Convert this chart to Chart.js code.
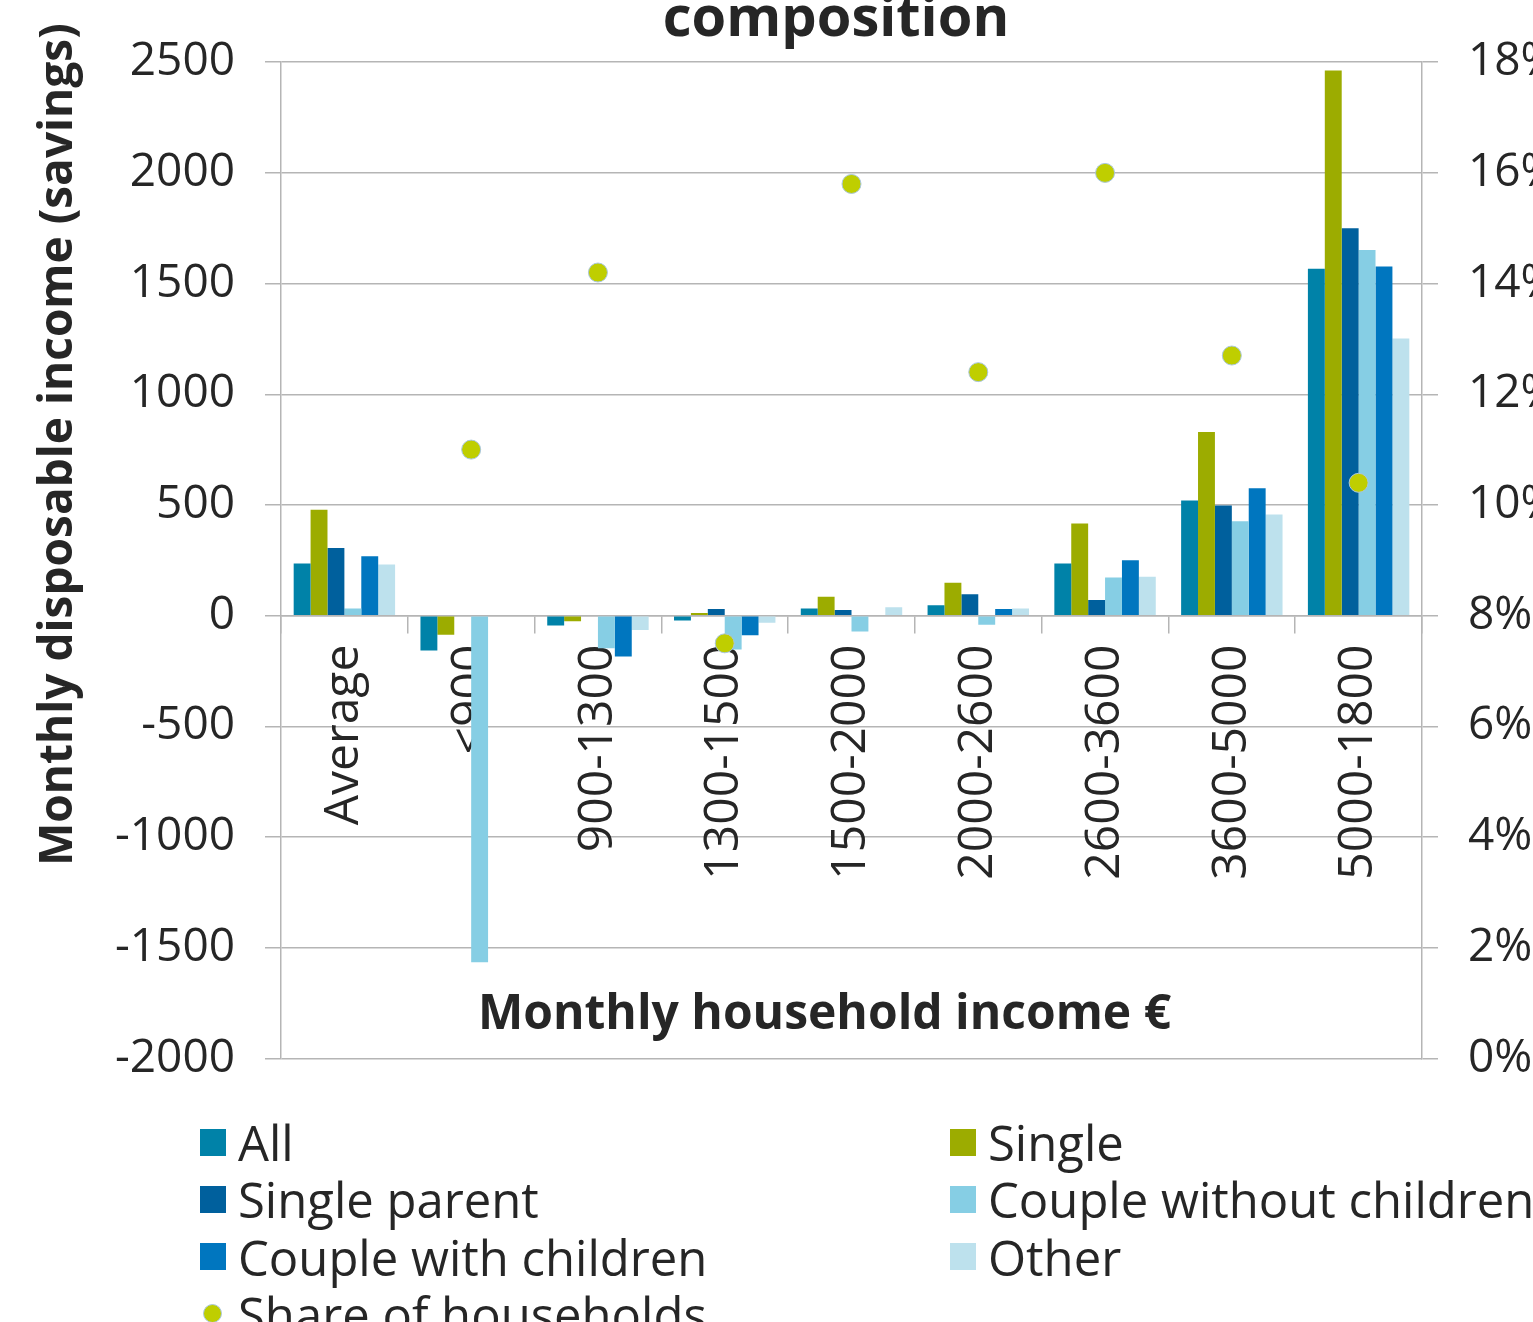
<!DOCTYPE html>
<html>
<head>
<meta charset="utf-8">
<script src="https://cdn.jsdelivr.net/npm/chart.js@4/dist/chart.umd.min.js"></script>
<style>
  html, body { margin:0; padding:0; width:1533px; height:1322px; overflow:hidden; background:#ffffff; }
  #chart { position:absolute; left:0; top:0; }
  .lg { position:absolute; display:flex; align-items:center; height:58px; font-family:'Open Sans', sans-serif; font-size:49px; color:#262626; white-space:nowrap; }
  .lg .sw { width:26px; height:27px; margin-right:12px; flex:none; }
  .lg .dot { width:19px; height:19px; border-radius:50%; margin-left:3px; margin-right:16px; flex:none; box-sizing:border-box; }
</style>
</head>
<body>
<canvas id="chart" width="1672" height="1116"></canvas>
<div id="legend"></div>
<script>
// ---- data ----
const categories = ['Average','<900','900-1300','1300-1500','1500-2000','2000-2600','2600-3600','3600-5000','5000-1800'];
const allHouseholds   = [236, -158,  -44,  -22,  32,  47, 235, 520, 1567];
const single          = [478,  -86,  -25,   12,  85, 149, 416, 830, 2462];
const singleParent    = [306, null, null,   30,  26,  97,  71, 497, 1750];
const coupleWithout   = [ 32, -1566, -147, -153, -72, -41, 172, 426, 1652];
const coupleWith      = [268, null, -184,  -89,  -4,  30, 250, 576, 1577];
const other           = [231, null,  -65,  -32,  38,  32, 176, 457, 1252];
const shareOfHouseholds = [null, 11.0, 14.2, 7.5, 15.8, 12.4, 16.0, 12.7, 10.4];
const leftTicks = { min: -2000, max: 2500, step: 500 };
const rightTicks = { min: 0, max: 18, step: 2 };

const TEXT = '#262626';
const GRID = '#b5b5b5';
const FONT = "'Open Sans', sans-serif";
Chart.defaults.font.family = FONT;
Chart.defaults.color = TEXT;

function bar(label, data, color) {
  return { type:'bar', label, data, backgroundColor: color, borderWidth:0,
           categoryPercentage:0.8, barPercentage:1.0, yAxisID:'y', order:1 };
}

const datasets = [
  bar('All', allHouseholds, '#0082A8'),
  bar('Single', single, '#9CAC00'),
  bar('Single parent', singleParent, '#00609D'),
  bar('Couple without children', coupleWithout, '#86CEE4'),
  bar('Couple with children', coupleWith, '#0076BF'),
  bar('Other', other, '#BDE1ED'),
  { type:'line', label:'Share of households', data: shareOfHouseholds, yAxisID:'y1',
    showLine:false, pointRadius:9.5, pointBackgroundColor:'#BFCE00', pointBorderColor:'#A9C6DE',
    pointBorderWidth:1, backgroundColor:'#BFCE00', borderColor:'#A9C6DE', order:0 }
];

const axisTitles = {
  id: 'axisTitles',
  afterDraw(chart) {
    const c = chart.ctx;
    c.save();
    c.fillStyle = TEXT;
    c.font = 'bold 46px ' + FONT;
    c.textBaseline = 'alphabetic';
    // y axis title (rotated)
    c.save();
    c.translate(72, 866);
    c.rotate(-Math.PI / 2);
    c.textAlign = 'left';
    c.fillText('Monthly disposable income (savings)', 0, 0);
    c.restore();
    // x axis title
    c.textAlign = 'left';
    c.font = 'bold 48px ' + FONT;
    c.fillText('Monthly household income €', 478, 1029);
    c.restore();
  }
};

const chart = new Chart(document.getElementById('chart'), {
  data: { labels: categories, datasets },
  options: {
    responsive: false,
    animation: false,
    layout: { padding: { left:0, right:0, top:0, bottom:0 } },
    plugins: {
      legend: { display:false },
      tooltip: { enabled:false },
      title: { display:true, text:'composition', color:TEXT,
               font:{ family:FONT, size:56, weight:'bold', lineHeight:0.7 },
               padding:{ top:0, bottom:23 } }
    },
    scales: {
      x: {
        type:'category',
        position: { y: 0 },
        offset:true,
        grid: { offset:true, drawOnChartArea:false, drawTicks:true, tickLength:17, color:GRID, lineWidth:1.5 },
        border: { display:true, color:GRID, width:1.5 },
        ticks: { minRotation:90, maxRotation:90, autoSkip:false, padding:12,
                 font:{ size:48 }, color:TEXT }
      },
      y: {
        position:'left',
        min:leftTicks.min, max:leftTicks.max,
        ticks: { stepSize:leftTicks.step, padding:30, font:{ size:46 }, color:TEXT,
                 callback: v => String(v) },
        grid: { color:GRID, lineWidth:1.5, tickLength:16 },
        border: { display:true, color:GRID, width:1.5 },
        afterFit: s => { s.width = 281; }
      },
      y1: {
        position:'right',
        min:rightTicks.min, max:rightTicks.max,
        ticks: { stepSize:rightTicks.step, padding:30, font:{ size:46 }, color:TEXT,
                 callback: v => v + '%' },
        grid: { drawOnChartArea:false, color:GRID, lineWidth:1.5, tickLength:16 },
        border: { display:true, color:GRID, width:1.5 },
        afterFit: s => { s.width = 1672 - 1422; }
      }
    }
  },
  plugins: [axisTitles]
});

// ---- HTML legend built from the chart's datasets ----
const legendEl = document.getElementById('legend');
chart.data.datasets.forEach((ds, i) => {
  const col = i % 2, row = Math.floor(i / 2);
  const item = document.createElement('div');
  item.className = 'lg';
  item.style.left = (col === 0 ? 200 : 950) + 'px';
  item.style.top = (1142 + row * 57.3 - 29) + 'px';
  const sw = document.createElement('span');
  if (ds.type === 'line') {
    sw.className = 'dot';
    sw.style.background = ds.pointBackgroundColor;
    sw.style.border = '1px solid ' + ds.pointBorderColor;
  } else {
    sw.className = 'sw';
    sw.style.background = ds.backgroundColor;
  }
  const tx = document.createElement('span');
  tx.textContent = ds.label;
  item.appendChild(sw);
  item.appendChild(tx);
  legendEl.appendChild(item);
});
</script>
</body>
</html>
